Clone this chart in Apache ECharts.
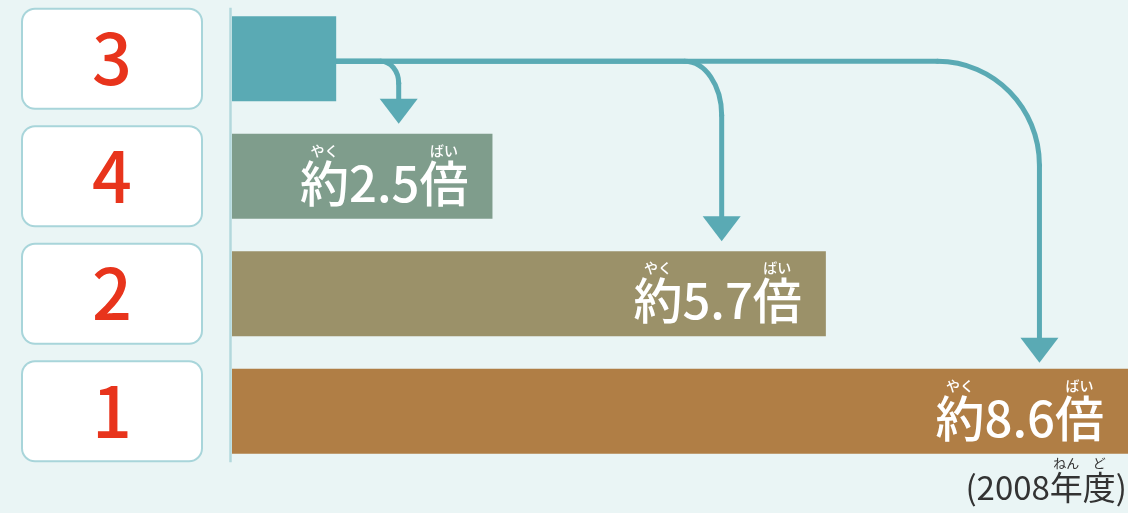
<!DOCTYPE html>
<html lang="ja">
<head>
    <meta charset="UTF-8">
    <title>倍率比較</title>
    <script src="https://cdn.jsdelivr.net/npm/echarts@6/dist/echarts.min.js"></script>
    <style>
        html, body { margin: 0; padding: 0; background: #eaf5f5; }
        #main { width: 1128px; height: 513px; }
    </style>
</head>
<body>
    <div id="main"></div>
    <script>
        // 順位（上から）と倍率
        const categories = ['3', '4', '2', '1'];
        const values = [1, 2.5, 5.7, 8.6];
        const valueTexts = ['', '2.5', '5.7', '8.6'];
        const barColors = ['#5aaab4', '#7f9d8c', '#9b9169', '#b07e45'];
        // 矢印：行き先の棒と、折れ曲がる位置（値）
        const arrowTargets = [1, 2, 3];
        const arrowX = [1.6, 4.7, 7.75];
        const arrowBend = [[18, 22], [37, 54], [102, 104]];

        const kanjiFont = '"Noto Sans CJK JP", "Noto Sans CJK SC", sans-serif';
        const mainSize = 49;

        function textWidth(str, font) {
            const ctx = document.createElement('canvas').getContext('2d');
            ctx.font = font;
            return ctx.measureText(str).width;
        }

        const kw = textWidth('約', '500 ' + mainSize + 'px ' + kanjiFont);

        const barData = values.map((v, i) => {
            if (i === 0) {
                return { value: v, itemStyle: { color: barColors[i] }, label: { show: false } };
            }
            const nw = textWidth(valueTexts[i], '500 ' + mainSize + 'px ' + kanjiFont);
            return {
                value: v,
                itemStyle: { color: barColors[i] },
                label: {
                    show: true,
                    formatter: '{ru|やく}{g| }{ru|ばい}\n{k|約}{n|' + valueTexts[i] + '}{k|倍}',
                    rich: {
                        ru: { fontSize: 14, lineHeight: 14, width: kw, align: 'center', color: '#fff', fontWeight: 500, fontFamily: kanjiFont },
                        g: { width: nw, fontSize: 14, lineHeight: 14 },
                        k: { fontSize: mainSize, lineHeight: 52, color: '#fff', fontWeight: 500, fontFamily: kanjiFont },
                        n: { fontSize: mainSize, lineHeight: 52, color: '#fff', fontWeight: 500, fontFamily: kanjiFont }
                    }
                }
            };
        });

        const chart = echarts.init(document.getElementById('main'));
        const option = {
            backgroundColor: '#eaf5f5',
            animation: false,
            grid: { left: 232, right: 0, top: -5, bottom: 43 },
            xAxis: {
                type: 'value',
                min: 0,
                max: 8.6,
                show: false
            },
            yAxis: {
                type: 'category',
                data: categories,
                inverse: true,
                axisLine: { show: false },
                axisTick: { show: false },
                axisLabel: {
                    margin: 31,
                    formatter: v => '{b|' + v + '}',
                    rich: {
                        b: {
                            width: 178,
                            height: 98,
                            align: 'center',
                            verticalAlign: 'middle',
                            backgroundColor: '#ffffff',
                            borderColor: '#a8d5da',
                            borderWidth: 2,
                            borderRadius: 12,
                            color: '#e8341c',
                            fontSize: 70,
                            fontWeight: 500,
                            fontFamily: kanjiFont
                        }
                    }
                }
            },
            series: [{
                type: 'bar',
                barWidth: 85,
                data: barData,
                label: {
                    position: 'insideRight',
                    distance: 24
                }
            }]
        };
        chart.setOption(option);

        // 軸線・矢印・注記を棒の位置から作る
        const teal = '#5aaab4';
        const graphics = [];
        const topC = chart.convertToPixel({ seriesIndex: 0 }, [0, 0]);
        const botC = chart.convertToPixel({ seriesIndex: 0 }, [0, categories.length - 1]);
        graphics.push({
            type: 'line',
            shape: { x1: topC[0] - 1.5, y1: topC[1] - 51, x2: botC[0] - 1.5, y2: botC[1] + 51 },
            style: { stroke: '#b3d8dc', lineWidth: 2.5 }
        });

        const start = chart.convertToPixel({ seriesIndex: 0 }, [values[0], 0]);
        const y0 = start[1] + 2.5;
        const k = 0.552;
        arrowTargets.forEach((t, i) => {
            const p = chart.convertToPixel({ seriesIndex: 0 }, [arrowX[i], t]);
            const x = p[0];
            const tip = p[1] - 42.5 - (i === 2 ? 6 : 10);
            const headTop = tip - 25;
            const rx = arrowBend[i][0], ry = arrowBend[i][1];
            const lineStyle = { stroke: teal, lineWidth: 5, fill: null, lineCap: 'round' };
            graphics.push({
                type: 'line',
                shape: { x1: start[0] - 1, y1: y0, x2: x - rx, y2: y0 },
                style: lineStyle
            });
            graphics.push({
                type: 'bezierCurve',
                shape: {
                    x1: x - rx, y1: y0,
                    cpx1: x - rx + rx * k, cpy1: y0,
                    cpx2: x, cpy2: y0 + ry - ry * k,
                    x2: x, y2: y0 + ry
                },
                style: lineStyle
            });
            graphics.push({
                type: 'line',
                shape: { x1: x, y1: y0 + ry, x2: x, y2: headTop + 1 },
                style: lineStyle
            });
            graphics.push({
                type: 'polygon',
                shape: { points: [[x - 19, headTop], [x + 19, headTop], [x, tip]] },
                style: { fill: teal }
            });
        });

        // (2008年度) とふりがな
        const noteSize = 33;
        const noteFont = noteSize + 'px ' + kanjiFont;
        const wPre = textWidth('(2008', noteFont);
        const wK = textWidth('年', noteFont);
        const wPost = textWidth(')', noteFont);
        graphics.push({
            type: 'text',
            x: 1127,
            y: 456,
            style: {
                text: '{g| }{r|ねん}{r|ど}{g2| }\n{m|(2008年度)}',
                align: 'right',
                verticalAlign: 'top',
                rich: {
                    g: { width: wPre, fontSize: 13, lineHeight: 14 },
                    g2: { width: wPost, fontSize: 13, lineHeight: 14 },
                    r: { width: wK, align: 'center', fontSize: 13, lineHeight: 14, fill: '#333', fontFamily: kanjiFont },
                    m: { fontSize: noteSize, lineHeight: 34, fill: '#333', fontFamily: kanjiFont }
                }
            }
        });

        chart.setOption({ graphic: graphics });
    </script>
</body>
</html>
